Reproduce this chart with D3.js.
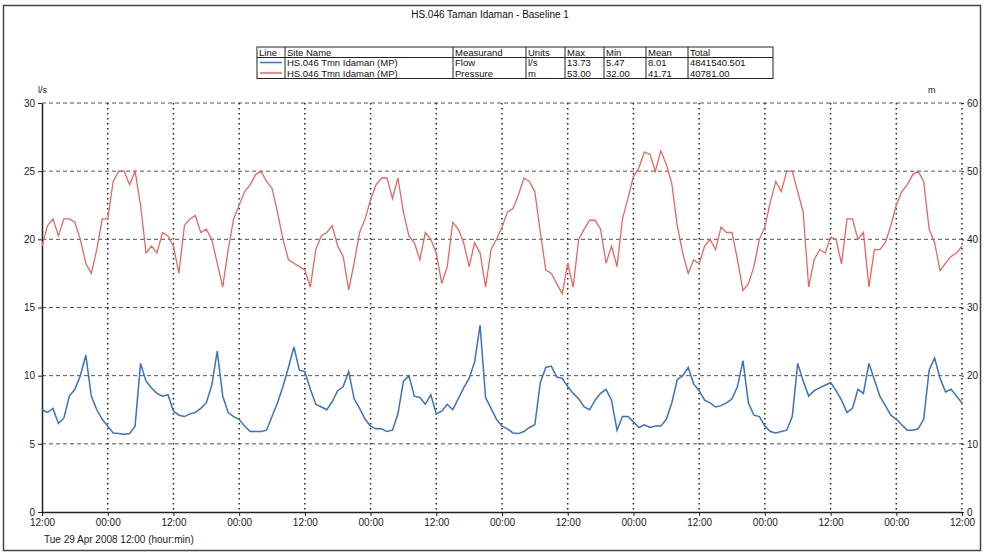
<!DOCTYPE html>
<html>
<head>
<meta charset="utf-8">
<script src="https://cdn.jsdelivr.net/npm/d3@7"></script>
<style>
    body { margin: 0; background: #fff; }
    svg { display: block; font-family: "Liberation Sans", Arial, sans-serif; }
</style>
</head>
<body>
<svg id="chart" width="984" height="553"></svg>
<script>
// hourly readings, Tue 29 Apr 2008 12:00 -> +168 h
const flowValues = [
    7.5, 7.3, 7.6, 6.5, 6.9, 8.5, 9.0, 10.0, 11.5, 8.5, 7.5, 6.8,
    6.3, 5.8, 5.75, 5.7, 5.75, 6.3, 10.9, 9.6, 9.1, 8.7, 8.5, 8.6,
    7.4, 7.1, 7.0, 7.2, 7.3, 7.6, 8.0, 9.3, 11.8, 8.5, 7.3, 7.0,
    6.8, 6.3, 5.9, 5.9, 5.9, 6.0, 7.0, 8.0, 9.2, 10.6, 12.1, 10.4,
    10.3, 9.0, 7.9, 7.7, 7.5, 8.1, 8.9, 9.2, 10.3, 8.3, 7.6, 6.8,
    6.3, 6.1, 6.1, 5.9, 6.0, 7.2, 9.6, 10.0, 8.5, 8.4, 7.9, 8.6,
    7.2, 7.4, 7.9, 7.5, 8.3, 9.1, 9.8, 11.0, 13.7, 8.4, 7.6, 6.8,
    6.3, 6.1, 5.8, 5.75, 5.9, 6.2, 6.4, 9.5, 10.6, 10.7, 9.9, 9.8,
    9.2, 8.7, 8.3, 7.7, 7.5, 8.2, 8.7, 9.0, 8.2, 6.0, 7.0, 7.0,
    6.6, 6.2, 6.4, 6.2, 6.3, 6.3, 6.8, 8.0, 9.7, 10.0, 10.6, 9.4,
    8.9, 8.2, 8.0, 7.7, 7.8, 8.0, 8.3, 9.2, 11.1, 8.0, 7.1, 7.0,
    6.3, 5.9, 5.8, 5.9, 6.0, 7.0, 10.9, 9.6, 8.5, 8.9, 9.1, 9.3,
    9.5, 8.9, 8.2, 7.3, 7.6, 9.0, 8.7, 10.9, 9.7, 8.5, 7.8, 7.1,
    6.8, 6.4, 6.0, 6.0, 6.1, 6.8, 10.4, 11.3, 9.8, 8.8, 9.0, 8.5,
    8.0
];

const pressureValues = [
    39, 42, 43, 40.5, 43, 43, 42.5, 40, 36.5, 35, 38.5, 43,
    43, 48.5, 50, 50, 48, 50, 45, 38, 39, 38, 41, 40.5,
    39, 35, 42, 43, 43.5, 41, 41.5, 40, 36.5, 33, 38.5, 43,
    45, 47, 48, 49.5, 50, 48.5, 47.5, 44, 40, 37, 36.5, 36,
    35.5, 33, 38.5, 40.5, 41, 42, 39, 37.5, 32.6, 36.5, 41, 43,
    45.8, 48, 49, 49, 46, 49, 44, 40.5, 39.5, 37, 41, 40,
    38, 33.5, 36, 42.5, 41.5, 39.5, 36, 39.5, 38, 33, 38.5, 40,
    41.8, 44, 44.5, 46.5, 49, 48.5, 47, 41, 35.5, 35, 33.5, 32,
    36.5, 33, 40, 41.5, 42.8, 42.8, 41.5, 36.5, 39, 36, 43, 46,
    49.2, 50.5, 52.8, 52.5, 50, 53, 51, 48.2, 42, 38, 35, 37,
    36.4, 39, 40, 38.5, 41.8, 41, 41, 37, 32.5, 33.5, 36, 40,
    41.8, 45.5, 48.5, 47, 50, 50, 47, 44, 33, 37, 38.5, 38,
    40.3, 40, 36.4, 43, 43, 40, 41, 33, 38.5, 38.5, 39.5, 42,
    45, 47, 48, 49.5, 50, 48.5, 41.5, 39.5, 35.4, 36.5, 37.5, 38,
    39
];

const flowTicks = [0, 5, 10, 15, 20, 25, 30];
const pressureTicks = [0, 10, 20, 30, 40, 50, 60];
const hourTicks = d3.range(0, 169, 12);
const hourLabels = ["12:00", "00:00"];

const legendHeader = ["Line", "Site Name", "Measurand", "Units", "Max", "Min", "Mean", "Total"];
const legendRows = [
    ["HS.046 Tmn Idaman (MP)", "Flow", "l/s", "13.73", "5.47", "8.01", "4841540.501"],
    ["HS.046 Tmn Idaman (MP)", "Pressure", "m", "53.00", "32.00", "41.71", "40781.00"]
];

const flowColor = "#3a72c2";
const pressureColor = "#e9665e";

const svg = d3.select("#chart");
const plotLeft = 42, plotRight = 962, plotTop = 103, plotBottom = 512;

const x = d3.scaleLinear().domain([0, 168]).range([plotLeft, plotRight]);
const yFlow = d3.scaleLinear().domain([0, 30]).range([plotBottom, plotTop]);
const yPres = d3.scaleLinear().domain([0, 60]).range([plotBottom, plotTop]);

// outer frame
svg.append("rect")
    .attr("x", 3.5).attr("y", 5.5)
    .attr("width", 977).attr("height", 545)
    .attr("fill", "none")
    .attr("stroke", "#444")
    .attr("stroke-width", 1.5);

svg.append("text")
    .attr("x", 490).attr("y", 18)
    .attr("text-anchor", "middle")
    .attr("font-size", 10)
    .attr("fill", "#111")
    .text("HS.046 Taman Idaman - Baseline 1");

// legend table
const colX = [257, 285, 453, 526, 565, 604, 646, 688, 773];
const rowY = [47, 57.5, 68, 78.5];
const legend = svg.append("g");

legend.append("rect")
    .attr("x", colX[0]).attr("y", rowY[0])
    .attr("width", colX[8] - colX[0]).attr("height", rowY[3] - rowY[0])
    .attr("fill", "#fff").attr("stroke", "#222");

legend.selectAll("line.col")
    .data(colX.slice(1, 8))
    .enter().append("line")
    .attr("class", "col")
    .attr("x1", d => d).attr("x2", d => d)
    .attr("y1", rowY[0]).attr("y2", rowY[3])
    .attr("stroke", "#222");

legend.append("line")
    .attr("x1", colX[0]).attr("x2", colX[8])
    .attr("y1", rowY[1]).attr("y2", rowY[1])
    .attr("stroke", "#222");

legend.selectAll("text.head")
    .data(legendHeader)
    .enter().append("text")
    .attr("class", "head")
    .attr("x", (d, i) => colX[i] + 2)
    .attr("y", rowY[0] + 8.5)
    .attr("font-size", 9.5)
    .attr("fill", "#111")
    .text(d => d);

legendRows.forEach((row, r) => {
    legend.append("line")
        .attr("x1", colX[0] + 3).attr("x2", colX[1] - 3)
        .attr("y1", rowY[r + 1] + 5).attr("y2", rowY[r + 1] + 5)
        .attr("stroke", r === 0 ? flowColor : pressureColor)
        .attr("stroke-width", 1.5);

    legend.selectAll("text.row" + r)
        .data(row)
        .enter().append("text")
        .attr("class", "row" + r)
        .attr("x", (d, i) => colX[i + 1] + 2)
        .attr("y", rowY[r + 1] + 8.5)
        .attr("font-size", 9.5)
        .attr("fill", "#111")
        .text(d => d);
});

// grid
svg.append("g")
    .selectAll("line")
    .data(flowTicks.slice(1))
    .enter().append("line")
    .attr("x1", plotLeft).attr("x2", plotRight)
    .attr("y1", d => yFlow(d)).attr("y2", d => yFlow(d))
    .attr("stroke", "#555")
    .attr("stroke-dasharray", "4,3");

svg.append("g")
    .selectAll("line")
    .data(hourTicks.slice(1))
    .enter().append("line")
    .attr("x1", d => x(d)).attr("x2", d => x(d))
    .attr("y1", plotTop).attr("y2", plotBottom)
    .attr("stroke", "#222")
    .attr("stroke-width", 1.5)
    .attr("stroke-dasharray", "1.5,3.5");

// axes
const xAxis = svg.append("g")
    .attr("transform", `translate(0,${plotBottom})`)
    .call(d3.axisBottom(x).tickValues(hourTicks)
        .tickFormat((d, i) => hourLabels[i % 2])
        .tickSize(4).tickSizeOuter(0));

const yAxisL = svg.append("g")
    .attr("transform", `translate(${plotLeft},0)`)
    .call(d3.axisLeft(yFlow).tickValues(flowTicks).tickSize(4).tickSizeOuter(0));

const yAxisR = svg.append("g")
    .attr("transform", `translate(${plotRight},0)`)
    .call(d3.axisRight(yPres).tickValues(pressureTicks).tickSize(2).tickSizeOuter(0));
yAxisR.select(".domain").remove();

[xAxis, yAxisL, yAxisR].forEach(g => {
    g.selectAll("text")
        .attr("font-size", 10)
        .attr("font-family", "\"Liberation Sans\", Arial, sans-serif")
        .attr("fill", "#222");
    g.selectAll("line, path").attr("stroke", "#222");
});
xAxis.select(".domain").attr("stroke-width", 1.5);
yAxisL.select(".domain").attr("stroke-width", 1.5);

svg.append("text")
    .attr("x", 38).attr("y", 93)
    .attr("font-size", 9).attr("fill", "#222")
    .text("l/s");

svg.append("text")
    .attr("x", 928).attr("y", 93)
    .attr("font-size", 9).attr("fill", "#222")
    .text("m");

svg.append("text")
    .attr("x", 44).attr("y", 543)
    .attr("font-size", 10).attr("fill", "#222")
    .text("Tue 29 Apr 2008 12:00 (hour:min)");

// series
const pressureLine = d3.line()
    .x((d, i) => x(i))
    .y(d => yPres(d));

const flowLine = d3.line()
    .x((d, i) => x(i))
    .y(d => yFlow(d));

svg.append("path")
    .datum(pressureValues)
    .attr("d", pressureLine)
    .attr("fill", "none")
    .attr("stroke", pressureColor)
    .attr("stroke-width", 1.3);

svg.append("path")
    .datum(flowValues)
    .attr("d", flowLine)
    .attr("fill", "none")
    .attr("stroke", flowColor)
    .attr("stroke-width", 1.5);
</script>
</body>
</html>
